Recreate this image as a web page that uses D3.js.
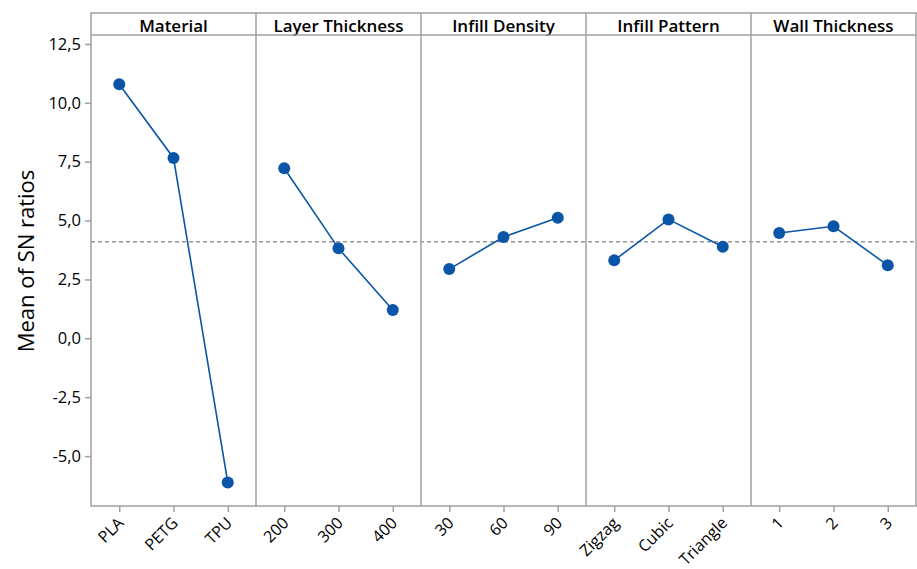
<!DOCTYPE html>
<html>
<head>
<meta charset="utf-8">
<script src="https://cdn.jsdelivr.net/npm/d3@7"></script>
<style>
  html, body { margin: 0; padding: 0; background: #fff; }
  svg { display: block; }
  text { font-family: "Open Sans", "Noto Sans", sans-serif; fill: #000; }
</style>
</head>
<body>
<div id="chart"></div>
<script>
// ---- data ----
const factors = ["Material", "Layer Thickness", "Infill Density", "Infill Pattern", "Wall Thickness"];
const levelsMaterial = ["PLA", "PETG", "TPU"];
const levelsLayer = ["200", "300", "400"];
const levelsDensity = ["30", "60", "90"];
const levelsPattern = ["Zigzag", "Cubic", "Triangle"];
const levelsWall = ["1", "2", "3"];
const snMaterial = [10.79, 7.66, -6.12];
const snLayer = [7.22, 3.82, 1.20];
const snDensity = [2.94, 4.30, 5.12];
const snPattern = [3.31, 5.05, 3.89];
const snWall = [4.47, 4.76, 3.10];
const grandMean = 4.10;
const yTicks = [12.5, 10.0, 7.5, 5.0, 2.5, 0.0, -2.5, -5.0];

const panels = [
  { name: factors[0], levels: levelsMaterial, values: snMaterial },
  { name: factors[1], levels: levelsLayer, values: snLayer },
  { name: factors[2], levels: levelsDensity, values: snDensity },
  { name: factors[3], levels: levelsPattern, values: snPattern },
  { name: factors[4], levels: levelsWall, values: snWall }
];

// ---- layout ----
const W = 917, H = 569;
const mLeft = 91, mRight = 916, mTop = 13, headerBottom = 35, mBottom = 506;
const frameColor = "#a0a0a0";
const blue = "#0a55a7";

const svg = d3.select("#chart").append("svg").attr("width", W).attr("height", H);

const y = d3.scaleLinear().domain([-7.12, 12.88]).range([mBottom, headerBottom]);
const panelScale = d3.scaleBand().domain(factors).range([mLeft, mRight]).padding(0);
const pw = panelScale.bandwidth();

const fmt = v => d3.format(".1f")(v).replace(".", ",").replace("−", "-");

// Y axis
const yAxis = d3.axisLeft(y).tickValues(yTicks).tickFormat(fmt).tickSize(6).tickPadding(4);
const yg = svg.append("g").attr("transform", `translate(${mLeft},0)`).call(yAxis);
yg.select(".domain").remove();
yg.selectAll(".tick line").attr("stroke", frameColor).attr("stroke-width", 1.5);
yg.selectAll(".tick text").attr("font-size", 16.5).attr("fill", "#000").style("font-family", "'Open Sans', sans-serif");

// Y label
svg.append("text")
  .attr("transform", `translate(34,261) rotate(-90)`)
  .attr("text-anchor", "middle")
  .attr("font-size", 22)
  .text("Mean of SN ratios");

// mean line
svg.append("line")
  .attr("x1", mLeft).attr("x2", mRight)
  .attr("y1", y(grandMean)).attr("y2", y(grandMean))
  .attr("stroke", "#999").attr("stroke-width", 1.5).attr("stroke-dasharray", "4,3");

// panels
panels.forEach(p => {
  const x0 = panelScale(p.name);
  const g = svg.append("g").attr("transform", `translate(${x0},0)`);
  const x = d3.scalePoint().domain(p.levels).range([0, pw]).padding(0.52);

  // x axis
  const xAxis = d3.axisBottom(x).tickSize(6).tickPadding(2);
  const xg = g.append("g").attr("transform", `translate(0,${mBottom})`).call(xAxis);
  xg.select(".domain").remove();
  xg.selectAll(".tick line").attr("stroke", frameColor).attr("stroke-width", 1.5);
  xg.selectAll(".tick text")
    .attr("font-size", 16)
    .attr("fill", "#000")
    .attr("text-anchor", "end")
    .attr("dy", 0)
    .attr("transform", "translate(5,18) rotate(-45)")
    .attr("y", 0).attr("x", 0);

  // header text
  g.append("text")
    .attr("x", pw / 2).attr("y", 32)
    .attr("text-anchor", "middle")
    .attr("font-size", 17)
    .attr("font-weight", 600)
    .text(p.name);

  // line
  const line = d3.line().x((d, i) => x(p.levels[i])).y(d => y(d));
  g.append("path").datum(p.values)
    .attr("d", line).attr("fill", "none")
    .attr("stroke", blue).attr("stroke-width", 1.6);
  g.selectAll("circle").data(p.values).enter().append("circle")
    .attr("cx", (d, i) => x(p.levels[i])).attr("cy", d => y(d))
    .attr("r", 6).attr("fill", blue);
});

// frame
const fr = svg.append("g").attr("fill", "none").attr("stroke", frameColor).attr("stroke-width", 1.5);
fr.append("rect").attr("x", mLeft).attr("y", mTop).attr("width", mRight - mLeft).attr("height", mBottom - mTop);
fr.append("line").attr("x1", mLeft).attr("x2", mRight).attr("y1", headerBottom).attr("y2", headerBottom);
factors.slice(1).forEach(f => {
  fr.append("line").attr("x1", panelScale(f)).attr("x2", panelScale(f)).attr("y1", mTop).attr("y2", mBottom);
});
</script>
</body>
</html>
